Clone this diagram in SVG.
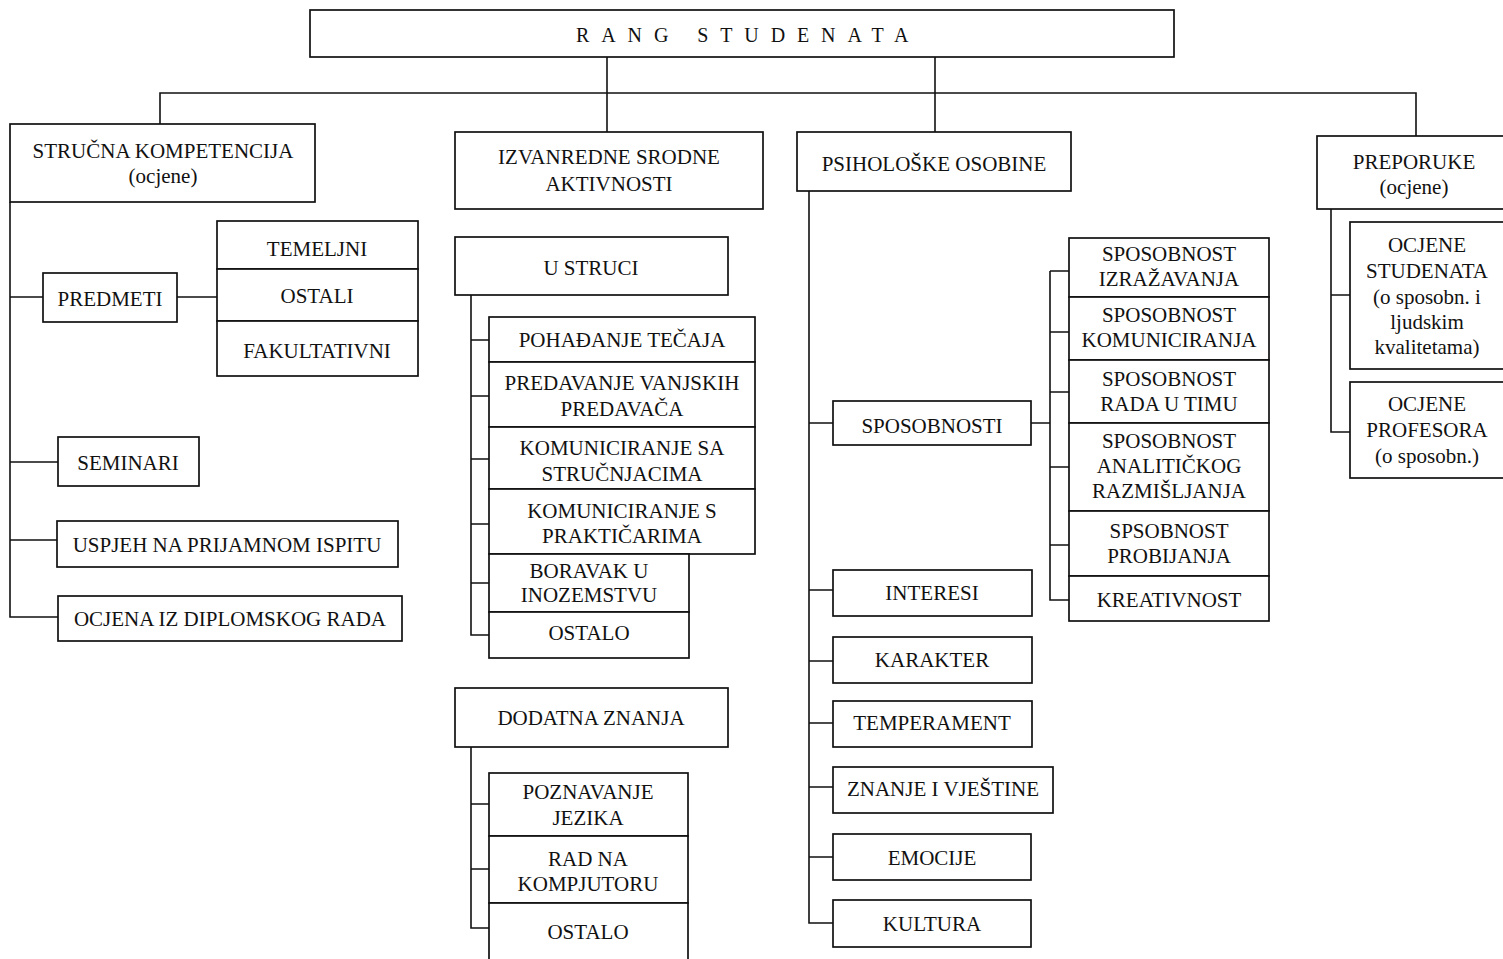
<svg xmlns="http://www.w3.org/2000/svg" width="1503" height="959" viewBox="0 0 1503 959">
<style>
.b{fill:#fff;stroke:#111;stroke-width:1.7}
.t{font-family:"Liberation Serif","Times New Roman",serif;font-size:21px;fill:#111;text-anchor:middle}
.c{stroke:#111;stroke-width:1.6;fill:none}
</style>
<rect width="1503" height="959" fill="#fff"/>
<g id="connectors" class="c">
<path d="M160,124 V93 H1416 V136"/>
<path d="M607,57 V132"/>
<path d="M935,57 V132"/>
<path d="M10,202 V617 H58 M10,297 H43 M177,297 H217 M10,462 H58 M10,540 H57"/>
<path d="M471,295 V635 H489 M471,340 H489 M471,396 H489 M471,459 H489 M471,524 H489 M471,583 H489"/>
<path d="M471,747 V928 H489 M471,804 H489 M471,869 H489"/>
<path d="M809,191 V923 H833 M809,423 H833 M809,590 H833 M809,661 H833 M809,723 H833 M809,787 H833 M809,857 H833"/>
<path d="M1031,423 H1050 M1050,271 V600 H1069 M1050,271 H1069 M1050,332 H1069 M1050,392 H1069 M1050,467 H1069 M1050,545 H1069"/>
<path d="M1331,209 V432 H1350 M1331,295 H1350"/>
</g>
<g id="rang-studenata"><rect class="b" x="310" y="10" width="864" height="47"/><text x="576" y="42" style="font-family:'Liberation Serif',serif;font-size:20px;fill:#111;letter-spacing:11.9px">RANG STUDENATA</text></g>
<g id="strucna-kompetencija"><rect class="b" x="10" y="124" width="305" height="78"/><text class="t" x="163" y="158">STRUČNA KOMPETENCIJA</text><text class="t" x="163" y="183">(ocjene)</text></g>
<g id="predmeti"><rect class="b" x="43" y="273" width="134" height="49"/><text class="t" x="110" y="306">PREDMETI</text></g>
<g id="temeljni"><rect class="b" x="217" y="221" width="201" height="48"/><text class="t" x="317" y="256">TEMELJNI</text></g>
<g id="ostali"><rect class="b" x="217" y="269" width="201" height="52"/><text class="t" x="317" y="303">OSTALI</text></g>
<g id="fakultativni"><rect class="b" x="217" y="321" width="201" height="55"/><text class="t" x="317" y="358">FAKULTATIVNI</text></g>
<g id="seminari"><rect class="b" x="58" y="437" width="141" height="49"/><text class="t" x="128" y="470">SEMINARI</text></g>
<g id="uspjeh"><rect class="b" x="57" y="521" width="341" height="46"/><text class="t" x="227" y="552">USPJEH NA PRIJAMNOM ISPITU</text></g>
<g id="ocjena-diplomskog"><rect class="b" x="58" y="596" width="344" height="45"/><text class="t" x="230" y="626">OCJENA IZ DIPLOMSKOG RADA</text></g>
<g id="izvanredne"><rect class="b" x="455" y="132" width="308" height="77"/><text class="t" x="609" y="164">IZVANREDNE SRODNE</text><text class="t" x="609" y="191">AKTIVNOSTI</text></g>
<g id="u-struci"><rect class="b" x="455" y="237" width="273" height="58"/><text class="t" x="591" y="275">U STRUCI</text></g>
<g id="pohadanje"><rect class="b" x="489" y="317" width="266" height="45"/><text class="t" x="622" y="347">POHAĐANJE TEČAJA</text></g>
<g id="predavanje"><rect class="b" x="489" y="362" width="266" height="65"/><text class="t" x="622" y="390">PREDAVANJE VANJSKIH</text><text class="t" x="622" y="416">PREDAVAČA</text></g>
<g id="kom-strucnjaci"><rect class="b" x="489" y="427" width="266" height="62"/><text class="t" x="622" y="455">KOMUNICIRANJE SA</text><text class="t" x="622" y="481">STRUČNJACIMA</text></g>
<g id="kom-prakticari"><rect class="b" x="489" y="489" width="266" height="65"/><text class="t" x="622" y="518">KOMUNICIRANJE S</text><text class="t" x="622" y="543">PRAKTIČARIMA</text></g>
<g id="boravak"><rect class="b" x="489" y="554" width="200" height="58"/><text class="t" x="589" y="578">BORAVAK U</text><text class="t" x="589" y="602">INOZEMSTVU</text></g>
<g id="ostalo-1"><rect class="b" x="489" y="612" width="200" height="46"/><text class="t" x="589" y="640">OSTALO</text></g>
<g id="dodatna-znanja"><rect class="b" x="455" y="688" width="273" height="59"/><text class="t" x="591" y="725">DODATNA ZNANJA</text></g>
<g id="poznavanje-jezika"><rect class="b" x="489" y="773" width="199" height="63"/><text class="t" x="588" y="799">POZNAVANJE</text><text class="t" x="588" y="825">JEZIKA</text></g>
<g id="rad-na-kompjutoru"><rect class="b" x="489" y="836" width="199" height="67"/><text class="t" x="588" y="866">RAD NA</text><text class="t" x="588" y="891">KOMPJUTORU</text></g>
<g id="ostalo-2"><rect class="b" x="489" y="903" width="199" height="62"/><text class="t" x="588" y="939">OSTALO</text></g>
<g id="psiholoske"><rect class="b" x="797" y="132" width="274" height="59"/><text class="t" x="934" y="171">PSIHOLOŠKE OSOBINE</text></g>
<g id="sposobnosti"><rect class="b" x="833" y="401" width="198" height="44"/><text class="t" x="932" y="433">SPOSOBNOSTI</text></g>
<g id="interesi"><rect class="b" x="833" y="570" width="199" height="46"/><text class="t" x="932" y="600">INTERESI</text></g>
<g id="karakter"><rect class="b" x="833" y="637" width="199" height="46"/><text class="t" x="932" y="667">KARAKTER</text></g>
<g id="temperament"><rect class="b" x="833" y="701" width="199" height="46"/><text class="t" x="932" y="730">TEMPERAMENT</text></g>
<g id="znanje-vjestine"><rect class="b" x="833" y="767" width="220" height="46"/><text class="t" x="943" y="796">ZNANJE I VJEŠTINE</text></g>
<g id="emocije"><rect class="b" x="833" y="834" width="198" height="46"/><text class="t" x="932" y="865">EMOCIJE</text></g>
<g id="kultura"><rect class="b" x="833" y="900" width="198" height="47"/><text class="t" x="932" y="931">KULTURA</text></g>
<g id="sp-izrazavanja"><rect class="b" x="1069" y="238" width="200" height="59"/><text class="t" x="1169" y="261">SPOSOBNOST</text><text class="t" x="1169" y="286">IZRAŽAVANJA</text></g>
<g id="sp-komuniciranja"><rect class="b" x="1069" y="297" width="200" height="63"/><text class="t" x="1169" y="322">SPOSOBNOST</text><text class="t" x="1169" y="347">KOMUNICIRANJA</text></g>
<g id="sp-rada-u-timu"><rect class="b" x="1069" y="360" width="200" height="63"/><text class="t" x="1169" y="386">SPOSOBNOST</text><text class="t" x="1169" y="411">RADA U TIMU</text></g>
<g id="sp-analitickog"><rect class="b" x="1069" y="423" width="200" height="88"/><text class="t" x="1169" y="448">SPOSOBNOST</text><text class="t" x="1169" y="473">ANALITIČKOG</text><text class="t" x="1169" y="498">RAZMIŠLJANJA</text></g>
<g id="sp-probijanja"><rect class="b" x="1069" y="511" width="200" height="65"/><text class="t" x="1169" y="538">SPSOBNOST</text><text class="t" x="1169" y="563">PROBIJANJA</text></g>
<g id="kreativnost"><rect class="b" x="1069" y="576" width="200" height="45"/><text class="t" x="1169" y="607">KREATIVNOST</text></g>
<g id="preporuke"><rect class="b" x="1317" y="136" width="195" height="73"/><text class="t" x="1414" y="169">PREPORUKE</text><text class="t" x="1414" y="194">(ocjene)</text></g>
<g id="ocjene-studenata"><rect class="b" x="1350" y="222" width="162" height="147"/><text class="t" x="1427" y="252">OCJENE</text><text class="t" x="1427" y="278">STUDENATA</text><text class="t" x="1427" y="304">(o sposobn. i</text><text class="t" x="1427" y="329">ljudskim</text><text class="t" x="1427" y="354">kvalitetama)</text></g>
<g id="ocjene-profesora"><rect class="b" x="1350" y="382" width="162" height="96"/><text class="t" x="1427" y="411">OCJENE</text><text class="t" x="1427" y="437">PROFESORA</text><text class="t" x="1427" y="463">(o sposobn.)</text></g>
</svg>
